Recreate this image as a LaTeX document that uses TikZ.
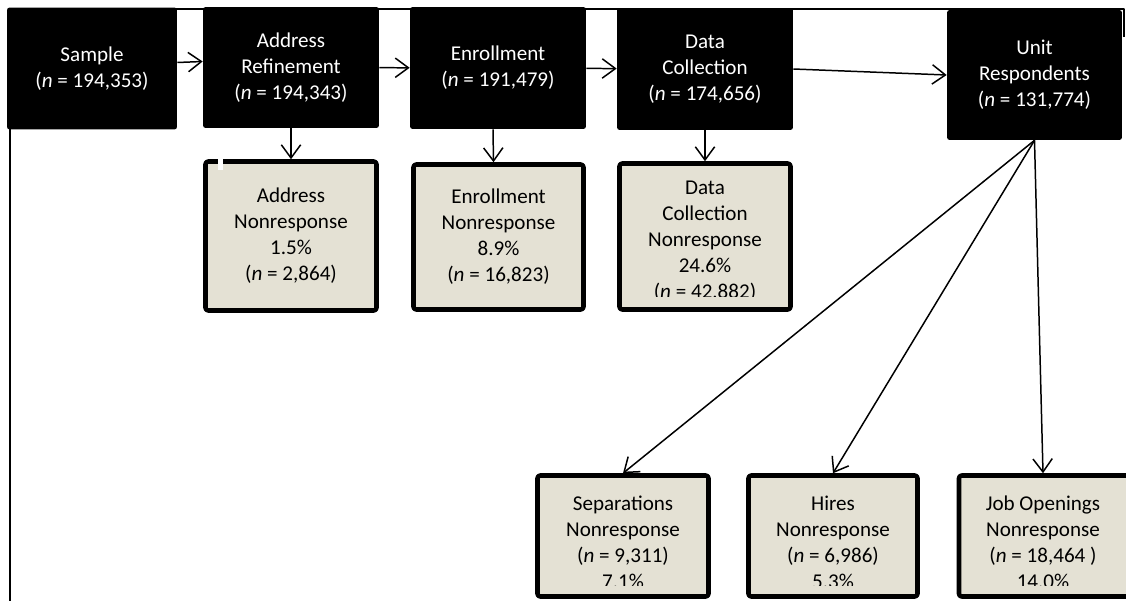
\documentclass[tikz,border=0pt]{standalone}
\usepackage{fontspec}
\setmainfont{Carlito}
\usetikzlibrary{arrows.meta}
\definecolor{nrgray}{RGB}{228,225,212}
\newcommand{\boxfont}{\fontsize{12pt}{14.8pt}\selectfont}
\tikzset{
  stagebox/.style={fill=black, text=white, rounded corners=1.5pt, align=center, inner sep=0pt,
    minimum width=3.52cm, minimum height=2.44cm, font=\boxfont},
  nrbox/.style={draw=black, fill=nrgray, line width=2.6pt, rounded corners=1.5pt, inner sep=0pt,
    minimum width=3.42cm, align=center, text=black, font=\boxfont},
  nrtext/.style={align=center, text=black, inner sep=0pt, font=\boxfont},
  flow/.style={->, line width=0.85pt}
}
\begin{document}
\begin{tikzpicture}[x=0.02cm, y=-0.02cm, >={Straight Barb[length=7.5pt,width=11pt]}, line join=round]
	\clip (0,0) rectangle (1126,601);
	\draw[line width=1.1pt] (10,650) -- (10,9) -- (1124,9) -- (1124,37);
	% stages
	\node[stagebox, minimum width=3.4cm] (sample) at (92,68.5) {Sample\\(\textit{n} = 194,353)};
	\node[stagebox, minimum height=2.42cm] (addr) at (291,67.5) {Address\\Refinement\\(\textit{n} = 194,343)};
	\node[stagebox] (enrol) at (498,68) {Enrollment\\(\textit{n} = 191,479)};
	\node[stagebox] (datac) at (705,69) {Data\\Collection\\(\textit{n} = 174,656)};
	\node[stagebox, minimum width=3.5cm, minimum height=2.6cm] (unit) at (1034.5,75) {Unit\\Respondents\\(\textit{n} = 131,774)};
	% nonresponse boxes
	\node[nrbox, minimum height=2.98cm] (addrnr) at (291,236) {Address\\Nonresponse\\1.5\%\\(\textit{n} = 2,864)};
	\fill[white] (218,159) rectangle (223,170);
	\node[nrbox, minimum width=3.4cm, minimum height=2.9cm] (enrolnr) at (498.5,237) {Enrollment\\Nonresponse\\8.9\%\\(\textit{n} = 16,823)};
	\node[nrbox, minimum height=2.92cm] (datanr) at (705,236.5) {};
	\node[nrbox, minimum height=2.42cm] (sepnr) at (623,536) {};
	\node[nrbox, minimum width=3.38cm, minimum height=2.42cm] (hiresnr) at (833,536) {};
	\node[nrbox, minimum width=4cm, minimum height=2.42cm] (jobnr) at (1059,536) {};
	\begin{scope}
		\clip ([yshift=0.3cm]datanr.south west) rectangle (datanr.north east);
		\node[nrtext] (datanrtext) at (705,241) {Data\\Collection\\Nonresponse\\24.6\%\\(\textit{n} = 42,882)};
	\end{scope}
	\begin{scope}
		\clip ([yshift=0.27cm]sepnr.south west) rectangle (jobnr.north east);
		\node[nrtext] (sepnrtext) at (623,542) {Separations\\Nonresponse\\(\textit{n} = 9,311)\\7.1\%};
		\node[nrtext] (hiresnrtext) at (833,542) {Hires\\Nonresponse\\(\textit{n} = 6,986)\\5.3\%};
		\node[nrtext] (jobnrtext) at (1043,542) {Job Openings\\Nonresponse\\(\textit{n} = 18,464 )\\14.0\%};
	\end{scope}
	% connectors
	\draw[flow] ([yshift=0.12cm]sample.east) -- ([yshift=0.12cm]addr.west);
	\draw[flow] (addr) -- (enrol);
	\draw[flow] (enrol) -- (datac);
	\draw[flow] (datac.east) -- (unit.west);
	\draw[flow] (addr) -- (addrnr);
	\draw[flow] ([xshift=-0.1cm]enrol.south) -- ([xshift=-0.1cm]enrolnr.north);
	\draw[flow] (datac) -- (datanr);
	\draw[flow] (unit.south) -- (sepnr.north);
	\draw[flow] (unit.south) -- (hiresnr.north);
	\draw[flow] (unit.south) -- ([xshift=-0.32cm]jobnr.north);
\end{tikzpicture}
\end{document}
